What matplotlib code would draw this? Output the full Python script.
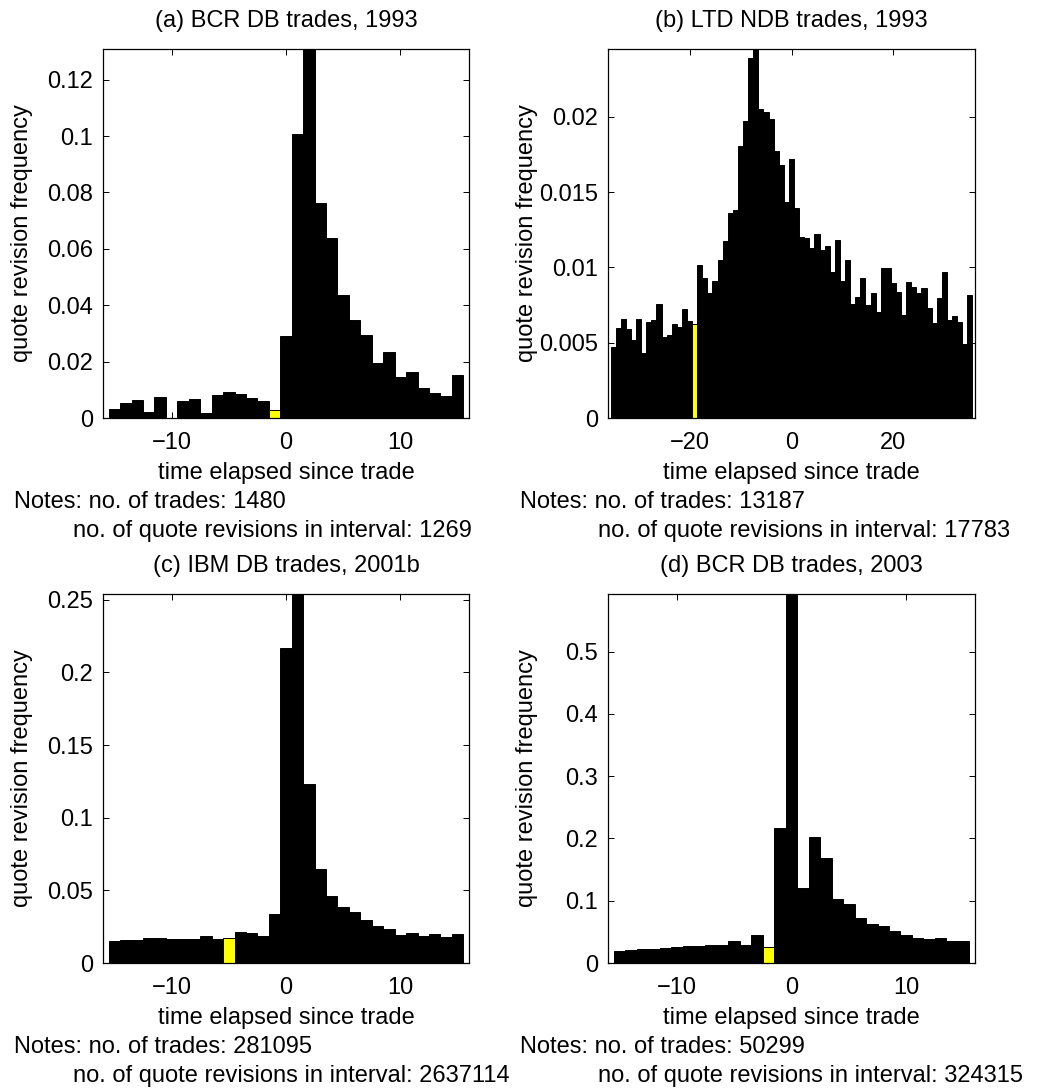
import matplotlib
matplotlib.use("Agg")
import matplotlib.pyplot as plt
from matplotlib.ticker import FuncFormatter, FixedLocator

plt.rcParams['font.family'] = ['Liberation Sans', 'DejaVu Sans']
plt.rcParams['axes.unicode_minus'] = True

# ---------------- data ----------------
lags_short = list(range(-15, 16))
lags_long = list(range(-35, 36))

freq_a = [0.0033, 0.0053, 0.0063, 0.0021, 0.0075, 0.0, 0.0060, 0.0066, 0.0018, 0.0083,
          0.0092, 0.0084, 0.0071, 0.0060, 0.0030,
          0.0290, 0.1006, 0.1309, 0.0763, 0.0637, 0.0436, 0.0349, 0.0295, 0.0195, 0.0234,
          0.0146, 0.0163, 0.0107, 0.0090, 0.0079, 0.0151]

freq_b = [0.00471, 0.0060, 0.00656, 0.00593, 0.00518, 0.0066, 0.00429, 0.0064, 0.00649, 0.0076,
          0.00538, 0.00553, 0.00624, 0.00604, 0.00727, 0.00644, 0.00622, 0.01018, 0.00927, 0.00827,
          0.00907, 0.01047, 0.01173, 0.01364, 0.01384, 0.01804, 0.01969, 0.02389, 0.0245, 0.02049,
          0.02029, 0.01982, 0.01771, 0.01678, 0.01433, 0.01722, 0.01396, 0.01204, 0.01193, 0.01131,
          0.01222, 0.01116, 0.0114, 0.00967, 0.01184, 0.00911, 0.01051, 0.00756, 0.00804, 0.00927,
          0.00749, 0.00831, 0.00702, 0.00996, 0.00996, 0.00896, 0.00838, 0.00684, 0.009, 0.00873,
          0.00833, 0.0086, 0.00733, 0.00631, 0.00796, 0.00969, 0.00651, 0.00676, 0.0064, 0.00493,
          0.00818]

freq_c = [0.0154, 0.0156, 0.0160, 0.0174, 0.0172, 0.0167, 0.0165, 0.0165, 0.0188, 0.0163,
          0.0174, 0.0213, 0.0204, 0.0188, 0.0339,
          0.217, 0.2539, 0.123, 0.0649, 0.0459, 0.0383, 0.0353, 0.0294, 0.0252, 0.0234,
          0.0195, 0.0209, 0.0183, 0.0200, 0.0177, 0.0197]

freq_d = [0.0193, 0.0209, 0.0220, 0.0230, 0.0247, 0.0257, 0.0268, 0.0268, 0.0284, 0.0290,
          0.0349, 0.0284, 0.0456, 0.0257, 0.217,
          0.5925, 0.121, 0.202, 0.169, 0.102, 0.0949, 0.0718, 0.0633, 0.0595, 0.0509,
          0.0456, 0.0402, 0.0391, 0.0402, 0.0354, 0.0349]

titles = ["(a) BCR DB trades, 1993", "(b) LTD NDB trades, 1993",
          "(c) IBM DB trades, 2001b", "(d) BCR DB trades, 2003"]
highlight = [-1, -19, -5, -2]
n_trades = [1480, 13187, 281095, 50299]
n_revisions = [1269, 17783, 2637114, 324315]
xticks_list = [[-10, 0, 10], [-20, 0, 20], [-10, 0, 10], [-10, 0, 10]]
yticks_list = [[0, 0.02, 0.04, 0.06, 0.08, 0.1, 0.12],
               [0, 0.005, 0.01, 0.015, 0.02],
               [0, 0.05, 0.1, 0.15, 0.2, 0.25],
               [0, 0.1, 0.2, 0.3, 0.4, 0.5]]
xlims = [16, 36, 16, 16]

panels = [(lags_short, freq_a), (lags_long, freq_b), (lags_short, freq_c), (lags_short, freq_d)]

# ---------------- layout (pixels) ----------------
W, H = 1058, 1088
FS = 17
fig = plt.figure(figsize=(W / 100, H / 100), dpi=100)
fig.patch.set_facecolor('white')

boxes = [(103, 49, 469, 418), (608, 49, 975, 418), (103, 594, 469, 963), (608, 594, 975, 963)]
notes_pos = [(14, 89), (520, 89), (14, 89), (520, 89)]
line2_x = [73, 598, 73, 598]

fmt = FuncFormatter(lambda v, p: ("%g" % v).replace("-", "\u2212"))

for i, ((x, y), (l, t, r, b)) in enumerate(zip(panels, boxes)):
    ax = fig.add_axes([l / W, 1 - b / H, (r - l) / W, (b - t) / H])
    colors = ['yellow' if xv == highlight[i] else 'black' for xv in x]
    ax.bar(x, y, width=1.0, color=colors, edgecolor='black', linewidth=0.7)
    ax.set_xlim(-xlims[i], xlims[i])
    ax.set_ylim(0, max(y))
    ax.xaxis.set_major_locator(FixedLocator(xticks_list[i]))
    ax.yaxis.set_major_locator(FixedLocator(yticks_list[i]))
    ax.xaxis.set_major_formatter(fmt)
    ax.yaxis.set_major_formatter(fmt)
    ax.tick_params(direction='in', top=True, right=True, length=4, width=0.7,
                   labelsize=FS)
    ax.tick_params(axis='x', pad=10)
    ax.tick_params(axis='y', pad=7)
    for s in ax.spines.values():
        s.set_linewidth(0.9)
    ax.set_title(titles[i], fontsize=FS, pad=16)
    axh = b - t
    axw = r - l
    ax.set_xlabel("time elapsed since trade", fontsize=FS, va='baseline')
    ax.xaxis.set_label_coords(0.5, -61 / axh)
    ax.set_ylabel("quote revision frequency", fontsize=FS)
    ax.yaxis.set_label_coords(-70 / axw, 0.5)
    # notes
    nx, dy = notes_pos[i]
    fig.text(nx / W, 1 - (b + 90) / H, "Notes: no. of trades: %d" % n_trades[i],
             fontsize=FS, ha='left', va='baseline')
    fig.text(line2_x[i] / W, 1 - (b + 119) / H,
             "no. of quote revisions in interval: %d" % n_revisions[i],
             fontsize=FS, ha='left', va='baseline')

fig.savefig("out.png", dpi=100, facecolor='white')
